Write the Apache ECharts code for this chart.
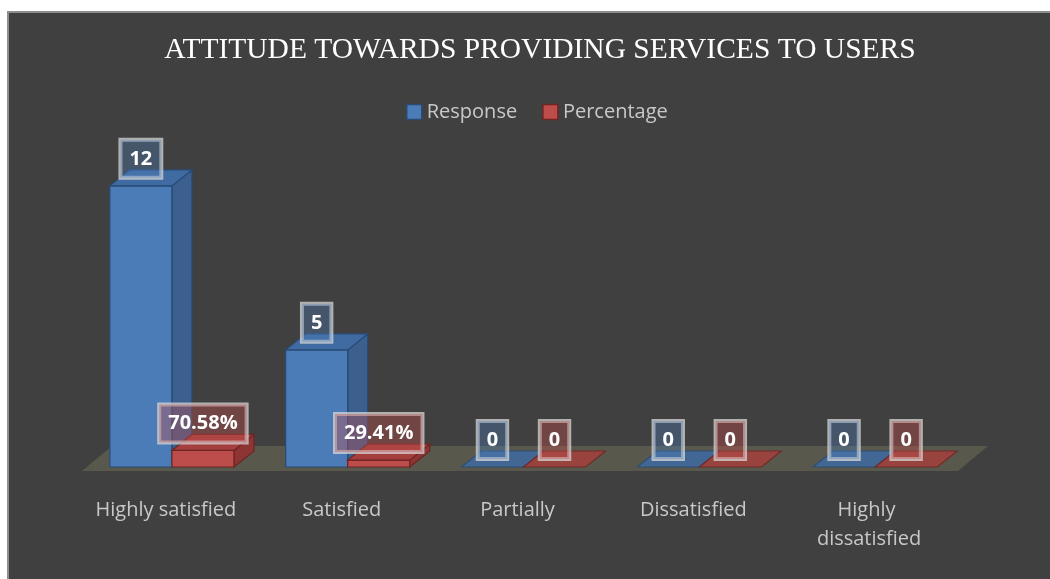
<!DOCTYPE html>
<html>
<head>
<meta charset="utf-8">
<script src="https://cdn.jsdelivr.net/npm/echarts@6/dist/echarts.min.js"></script>
<style>
html,body{margin:0;padding:0;background:#fff;}
#c{width:1050px;height:579px;}
</style>
</head>
<body>
<div id="c"></div>
<script>
// ---- data ----
const titleText = 'ATTITUDE TOWARDS PROVIDING SERVICES TO USERS';
const categories = ['Highly satisfied', 'Satisfied', 'Partially', 'Dissatisfied', 'Highly dissatisfied'];
const seriesNames = ['Response', 'Percentage'];
const responseValues = [12, 5, 0, 0, 0];
const percentageValues = [0.7058, 0.2941, 0, 0, 0];

// ---- styles ----
const palette = [
  {front: '#4b7cb8', side: '#3b5f8e', top: '#3f6aa2', stroke: '#294a74', labelBg: 'rgba(79,129,189,0.35)'},
  {front: '#bd4d4a', side: '#8c3533', top: '#a53f3d', stroke: '#6e2523', labelBg: 'rgba(192,80,77,0.38)'}
];
const DX = 20, DY = 16;
const BAR_RATIO = 0.353;

function fmt(si, v) {
  if (v === 0) return '0';
  if (si === 1) return (v * 100).toFixed(2) + '%';
  return String(v);
}

function barRenderer(si) {
  return function (params, api) {
    const idx = api.value(0);
    const val = api.value(1);
    const base = api.coord([idx, 0]);
    const topPt = api.coord([idx, val]);
    const band = api.size([1, 0])[0];
    const bw = band * BAR_RATIO;
    const x0 = si === 0 ? base[0] - bw : base[0];
    const x1 = x0 + bw;
    const yb = base[1], yt = topPt[1];
    const c = palette[si];
    const children = [];
    if (yb - yt > 0.5) {
      children.push({type: 'polygon', shape: {points: [[x1, yt], [x1 + DX, yt - DY], [x1 + DX, yb - DY], [x1, yb]]},
        style: {fill: c.side, stroke: c.stroke, lineWidth: 1.2}});
      children.push({type: 'rect', shape: {x: x0, y: yt, width: bw, height: yb - yt},
        style: {fill: c.front, stroke: c.stroke, lineWidth: 1.2}});
    }
    children.push({type: 'polygon', shape: {points: [[x0, yt], [x0 + DX, yt - DY], [x1 + DX, yt - DY], [x1, yt]]},
      style: {fill: c.top, stroke: c.stroke, lineWidth: 1.2, opacity: (yb - yt > 0.5) ? 1 : 0.85}});
    children.push({type: 'text', z2: 100, x: (x0 + x1) / 2, y: yt - 8,
      style: {text: fmt(si, val), fill: '#ffffff', font: 'bold 20px "Open Sans"', align: 'center', verticalAlign: 'bottom',
        backgroundColor: c.labelBg, borderColor: 'rgba(215,215,215,0.75)', borderWidth: 2, padding: [9, 9, 9, 9], lineHeight: 20}});
    return {type: 'group', children: children};
  };
}

function floorRenderer(params, api) {
  const cs = params.coordSys;
  const yb = api.coord([0, 0])[1];
  const yf = yb + 4, yk = yb - 21;
  const xl = cs.x - 2, xr = cs.x + cs.width - 5;
  const off = 30;
  return {type: 'polygon', shape: {points: [[xl, yf], [xl + off, yk], [xr + off, yk], [xr, yf]]},
    style: {fill: '#58584c'}};
}

const chart = echarts.init(document.getElementById('c'), null, {renderer: 'canvas'});
chart.setOption({
  backgroundColor: '#ffffff',
  animation: false,
  graphic: [{type: 'rect', z: -10, silent: true, shape: {x: 8, y: 12, width: 1100, height: 620},
    style: {fill: '#404040', stroke: '#8e8e8e', lineWidth: 2}}],
  title: {text: titleText, left: 535, textAlign: 'center', top: 30,
    textStyle: {fontFamily: '"Liberation Serif", serif', fontSize: 29.5, fontWeight: 'normal', color: '#ffffff'}},
  legend: {left: 401, top: 97, itemWidth: 15, itemHeight: 15, itemGap: 25, icon: 'rect',
    textStyle: {color: '#c8c8c8', fontSize: 20, fontFamily: '"Open Sans"'},
    data: seriesNames.map((n, i) => ({name: n, itemStyle: {color: palette[i].front, borderColor: palette[i].stroke, borderWidth: 1.5}}))},
  grid: {left: 84, right: 87, top: 139, bottom: 112},
  xAxis: {type: 'category', data: categories,
    axisLine: {show: false}, axisTick: {show: false},
    axisLabel: {interval: 0, margin: 29, color: '#c8c8c8', fontSize: 20, fontFamily: '"Open Sans"', lineHeight: 29,
      width: 160, overflow: 'break', padding: [0, 12, 0, 0]}},
  yAxis: {type: 'value', min: 0, max: 14, show: false},
  series: [
    {type: 'custom', name: 'floor', silent: true, renderItem: floorRenderer, data: [[0, 0]], encode: {x: 0, y: 1}},
    {type: 'custom', name: seriesNames[0], renderItem: barRenderer(0), itemStyle: {color: palette[0].front},
      data: responseValues.map((v, i) => [i, v]), encode: {x: 0, y: 1}},
    {type: 'custom', name: seriesNames[1], renderItem: barRenderer(1), itemStyle: {color: palette[1].front},
      data: percentageValues.map((v, i) => [i, v]), encode: {x: 0, y: 1}}
  ]
});
</script>
</body>
</html>
